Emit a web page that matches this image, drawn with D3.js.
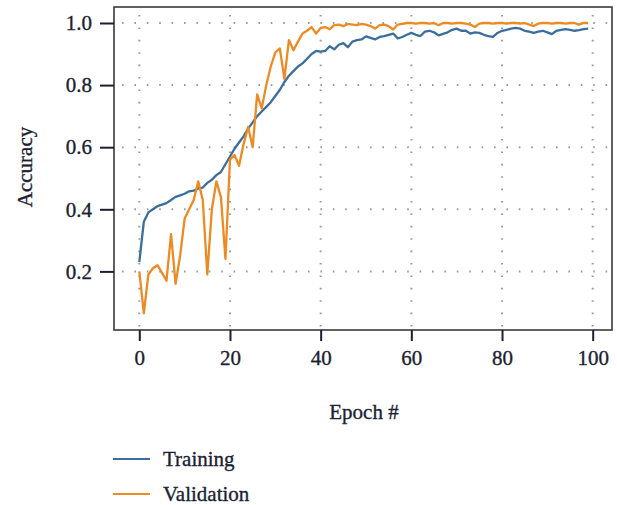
<!DOCTYPE html>
<html>
<head>
<meta charset="utf-8">
<script src="https://cdn.jsdelivr.net/npm/d3@7"></script>
<style>
  body { margin: 0; background: #fff; }
  text { font-family: "Liberation Serif", "DejaVu Serif", serif; fill: #1c1f33; stroke: #1c1f33; stroke-width: 0.35px; }
</style>
</head>
<body>
<script>
// accuracy per epoch
const training = [
  0.23, 0.36, 0.39, 0.40, 0.41, 0.415, 0.42, 0.43, 0.44, 0.445,
  0.45, 0.458, 0.46, 0.467, 0.47, 0.485, 0.495, 0.51, 0.52, 0.545,
  0.57, 0.595, 0.615, 0.635, 0.66, 0.68, 0.70, 0.715, 0.73, 0.745,
  0.765, 0.785, 0.81, 0.83, 0.845, 0.86, 0.87, 0.885, 0.90, 0.91,
  0.908, 0.91, 0.925, 0.915, 0.93, 0.935, 0.922, 0.94, 0.945, 0.947,
  0.957, 0.952, 0.947, 0.955, 0.958, 0.962, 0.966, 0.95, 0.955, 0.962,
  0.968, 0.962, 0.958, 0.972, 0.975, 0.97, 0.96, 0.965, 0.97, 0.978,
  0.982, 0.975, 0.975, 0.966, 0.97, 0.968, 0.962, 0.958, 0.955, 0.968,
  0.975, 0.978, 0.982, 0.984, 0.982, 0.975, 0.972, 0.968, 0.972, 0.975,
  0.97, 0.964, 0.975, 0.978, 0.98, 0.978, 0.975, 0.977, 0.98, 0.982
];
const validation = [
  0.20, 0.065, 0.19, 0.21, 0.22, 0.195, 0.17, 0.32, 0.16, 0.25,
  0.37, 0.40, 0.43, 0.49, 0.43, 0.19, 0.40, 0.49, 0.44, 0.24,
  0.56, 0.575, 0.54, 0.61, 0.665, 0.60, 0.77, 0.725, 0.80, 0.86,
  0.905, 0.918, 0.82, 0.945, 0.912, 0.94, 0.966, 0.975, 0.987, 0.966,
  0.984, 0.987, 0.98, 0.993, 0.995, 0.99, 0.997, 0.995, 0.993, 0.997,
  0.995, 0.99, 0.982, 0.993, 0.995, 0.99, 0.979, 0.995, 0.997, 1.0,
  1.0, 0.998, 1.0, 1.0, 0.998, 1.0, 0.993, 1.0, 1.0, 0.998,
  1.0, 1.0, 0.998, 0.995, 0.987, 0.998, 1.0, 1.0, 0.998, 1.0,
  1.0, 0.998, 1.0, 1.0, 0.998, 1.0, 0.995, 0.99, 0.998, 1.0,
  1.0, 0.998, 1.0, 1.0, 0.998, 1.0, 1.0, 0.995, 1.0, 1.0
];
const xTicks = [0, 20, 40, 60, 80, 100];
const yTicks = [0.2, 0.4, 0.6, 0.8, 1.0];
const seriesNames = ["Training", "Validation"];
const colors = ["#3b6e9c", "#ee8a22"];

const width = 617, height = 505;
const box = { left: 114, top: 7, right: 612, bottom: 330 };
const fontSize = 21;

const svg = d3.select("body").append("svg")
  .attr("width", width).attr("height", height);

const x = d3.scaleLinear().domain([0, 100]).range([139.3, 592.7]);
const y = d3.scaleLinear().domain([0, 1]).range([333.5, 23]);

// dotted grid
const grid = svg.append("g").attr("stroke", "#9a9a9a").attr("stroke-width", 2)
  .attr("stroke-dasharray", "1.6,10.8").attr("stroke-linecap", "butt");
grid.selectAll(".gx").data(xTicks).enter().append("line")
  .attr("x1", d => x(d)).attr("x2", d => x(d))
  .attr("y1", box.top + 8).attr("y2", box.bottom);
grid.selectAll(".gy").data(yTicks).enter().append("line")
  .attr("x1", box.left + 8).attr("x2", box.right)
  .attr("y1", d => y(d)).attr("y2", d => y(d));

// curves
const line = d3.line().x((d, i) => x(i)).y(d => y(d));
[training, validation].forEach((s, k) => {
  svg.append("path").datum(s)
    .attr("fill", "none").attr("stroke", colors[k])
    .attr("stroke-width", 2.3).attr("stroke-linejoin", "round")
    .attr("d", line);
});

// frame
svg.append("rect")
  .attr("x", box.left).attr("y", box.top)
  .attr("width", box.right - box.left).attr("height", box.bottom - box.top)
  .attr("fill", "none").attr("stroke", "#3a3a3a").attr("stroke-width", 1.6);

// axes
const xAxis = svg.append("g").attr("transform", `translate(0,${box.bottom})`)
  .call(d3.axisBottom(x).tickValues(xTicks).tickSize(11).tickPadding(9).tickFormat(d3.format("d")));
const yAxis = svg.append("g").attr("transform", `translate(${box.left},0)`)
  .call(d3.axisLeft(y).tickValues(yTicks).tickSize(14).tickPadding(8).tickFormat(d3.format(".1f")));
[xAxis, yAxis].forEach(a => {
  a.select(".domain").remove();
  a.selectAll(".tick line").attr("stroke", "#1c1f33").attr("stroke-width", 2);
  a.selectAll(".tick text").attr("font-size", fontSize).attr("font-family", null).attr("fill", "#1c1f33");
});

// axis titles
svg.append("text").attr("x", 364).attr("y", 419)
  .attr("text-anchor", "middle").attr("font-size", fontSize).text("Epoch #");
svg.append("text").attr("transform", "translate(32,167) rotate(-90)")
  .attr("text-anchor", "middle").attr("font-size", fontSize).text("Accuracy");

// legend
const legend = svg.append("g");
seriesNames.forEach((name, k) => {
  const ly = 459 + k * 35;
  legend.append("line").attr("x1", 113).attr("x2", 150)
    .attr("y1", ly).attr("y2", ly)
    .attr("stroke", colors[k]).attr("stroke-width", 2);
  legend.append("text").attr("x", 163).attr("y", ly + 7)
    .attr("font-size", fontSize).text(name);
});
</script>
</body>
</html>
